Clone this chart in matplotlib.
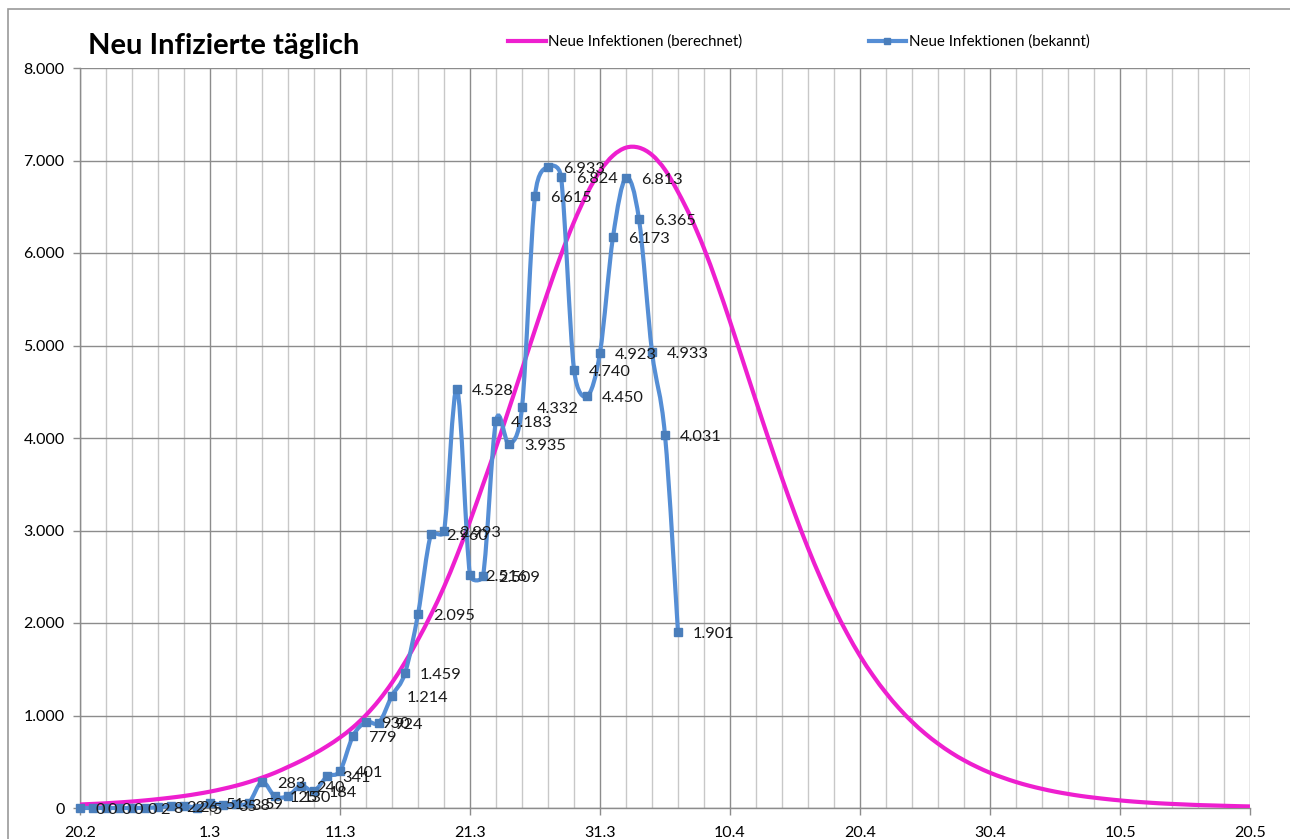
import numpy as np
import matplotlib.pyplot as plt
from matplotlib.path import Path
from matplotlib.patches import PathPatch, Rectangle
from matplotlib.lines import Line2D

plt.rcParams['font.family'] = ['Lato', 'DejaVu Sans']

# Tage ab 20.2.
xtick_days = [0, 10, 20, 30, 40, 50, 60, 70, 80, 90]
xtick_labels = ['20.2', '1.3', '11.3', '21.3', '31.3', '10.4', '20.4', '30.4', '10.5', '20.5']
ytick_values = [0, 1000, 2000, 3000, 4000, 5000, 6000, 7000, 8000]
ytick_labels = ['0', '1.000', '2.000', '3.000', '4.000', '5.000', '6.000', '7.000', '8.000']

# gemeldete Neuinfektionen pro Tag (20.2. - 6.4.)
bekannt = [0, 0, 0, 0, 0, 2, 8, 22, 26, 5, 51, 35, 38, 59,
           283, 125, 130, 240, 184, 341, 401, 779, 930, 924, 1214, 1459,
           2095, 2960, 2993, 4528, 2516, 2509, 4183, 3935, 4332, 6615,
           6933, 6824, 4740, 4450, 4923, 6173, 6813, 6365, 4933, 4031, 1901]

# berechneter Verlauf pro Tag (20.2. - 20.5.)
berechnet = [38, 44, 51, 60, 70, 82, 96, 112, 130, 152, 177, 207, 241, 281,
             328, 381, 444, 510, 585,
             668, 762, 872, 1005, 1165, 1355, 1575, 1820, 2090, 2390, 2730,
             3100, 3496, 3897, 4315, 4742, 5169, 5585, 5980, 6336, 6642,
             6885, 7053, 7139,
             7139, 7060, 6900, 6660, 6380, 6050, 5670, 5260, 4830, 4400,
             3975, 3565, 3175, 2810, 2475, 2165, 1890, 1645, 1432, 1244,
             1078, 933, 806, 696, 599, 516, 444, 381, 328, 281, 241, 207,
             177, 152, 130, 112, 96, 82, 70, 60, 51, 44, 38, 32, 28, 24,
             20, 17]

blau = '#558ed5'
pink = '#ee1fcf'


def smooth_path(ax, x, y):
    # geglaettete Linie wie in Excel: Bezier-Segmente in Pixeln,
    # Hebel werden auf die Segmentlaenge begrenzt
    pts = ax.transData.transform(np.column_stack([x, y]))
    n = len(pts)
    verts = [pts[0]]
    codes = [Path.MOVETO]
    for i in range(n - 1):
        p0 = pts[i - 1] if i > 0 else pts[i]
        p1, p2 = pts[i], pts[i + 1]
        p3 = pts[i + 2] if i + 2 < n else pts[i + 1]
        a1 = (p2 - p0) / 6
        a2 = (p3 - p1) / 6
        seg = np.hypot(*(p2 - p1))
        s = np.hypot(*a1) + np.hypot(*a2)
        if s > seg and s > 0:
            a1 = a1 * seg / s
            a2 = a2 * seg / s
        verts += [p1 + a1, p2 - a2, p2]
        codes += [Path.CURVE4] * 3
    verts = ax.transData.inverted().transform(np.array(verts))
    return Path(verts, codes)


fig = plt.figure(figsize=(12.9, 8.39), dpi=100)
ax = fig.add_axes([80 / 1290, 1 - 808 / 839, 1170 / 1290, 740 / 839])
ax.set_xlim(0, 90)
ax.set_ylim(0, 8000)

# Gitter
for d in range(0, 91, 2):
    major = d % 10 == 0
    ax.axvline(d, color='#8c8c8c' if major else '#c8c8c8', lw=1.0, zorder=0)
for v in ytick_values:
    ax.axhline(v, color='#8c8c8c', lw=1.0, zorder=0)

tage_b = np.arange(len(berechnet))
tage_k = np.arange(len(bekannt))

ax.add_patch(PathPatch(smooth_path(ax, tage_b, berechnet), fill=False,
                       edgecolor=pink, lw=3, zorder=3))
ax.add_patch(PathPatch(smooth_path(ax, tage_k, bekannt), fill=False,
                       edgecolor=blau, lw=3, zorder=4, clip_on=False))
ax.plot(tage_k, bekannt, ls='none', marker='s', ms=5.5, color='#4a7ebb',
        zorder=5, clip_on=False)

for d, v in zip(tage_k, bekannt):
    txt = f'{v:,}'.replace(',', '.')
    ax.annotate(txt, (d, v), xytext=(15, -2), textcoords='offset pixels',
                ha='left', va='center', fontsize=11.8, color='#1a1a1a', zorder=6)

ax.set_xticks(xtick_days)
ax.set_xticklabels(xtick_labels, fontsize=11.5)
ax.set_yticks(ytick_values)
ax.set_yticklabels(ytick_labels, fontsize=11.5)
ax.tick_params(axis='x', length=5, width=1, color='#8c8c8c', pad=8, direction='out')
ax.tick_params(axis='y', length=5, width=1, color='#8c8c8c', pad=6, direction='out')
for s in ['top', 'right']:
    ax.spines[s].set_visible(False)
for s in ['left', 'bottom']:
    ax.spines[s].set_color('#8c8c8c')
    ax.spines[s].set_linewidth(1.0)

fig.text(88 / 1290, 1 - 46 / 839, 'Neu Infizierte täglich', fontsize=21,
         fontweight='bold', ha='left', va='center')

handles = [Line2D([], [], color=pink, lw=3),
           Line2D([], [], color=blau, lw=3, marker='s', ms=5, mfc='#4a7ebb', mec='#4a7ebb')]
fig.legend(handles, ['Neue Infektionen (berechnet)', 'Neue Infektionen (bekannt)'],
           loc='center left', bbox_to_anchor=(508 / 1290, 1 - 42 / 839), ncol=2,
           frameon=False, fontsize=10.8, handlelength=2.5, handletextpad=0.2,
           columnspacing=8.4, borderaxespad=0, borderpad=0)

# Rahmen des Diagrammbereichs
fig.patches.append(Rectangle((8 / 1290, -0.05), 1.05, 1 - 9 / 839 + 0.05,
                             transform=fig.transFigure, fill=False,
                             edgecolor='#9a9a9a', lw=1.2))

fig.savefig('out.png', dpi=100)
